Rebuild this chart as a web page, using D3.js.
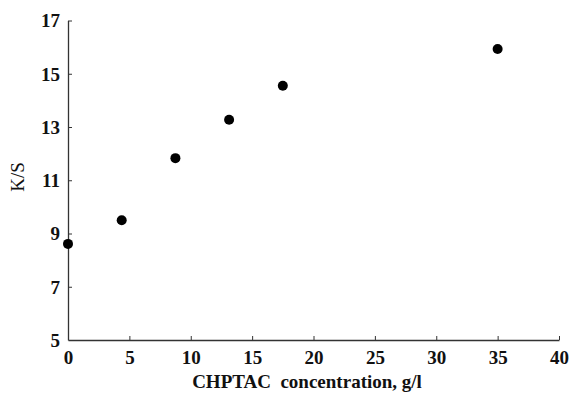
<!DOCTYPE html>
<html>
<head>
<meta charset="utf-8">
<script src="https://cdn.jsdelivr.net/npm/d3@7"></script>
</head>
<body style="margin:0;background:#fff">
<script>
const concentration = [0, 4.375, 8.75, 13.125, 17.5, 35];
const ksValues = [8.61, 9.5, 11.83, 13.27, 14.55, 15.93];
const xTicks = [0, 5, 10, 15, 20, 25, 30, 35, 40];
const yTicks = [5, 7, 9, 11, 13, 15, 17];
const xLabel = "CHPTAC\u00a0 concentration, g/l";
const yLabel = "K/S";

const W = 572, H = 396;
const m = { left: 68, right: 13, top: 20.5, bottom: 56 };

const svg = d3.select("body").append("svg").attr("width", W).attr("height", H)
  .style("display", "block");

const x = d3.scaleLinear().domain([0, 40]).range([m.left, W - m.right]);
const y = d3.scaleLinear().domain([5, 17]).range([H - m.bottom, m.top]);

const FONT = "'Liberation Serif', 'Times New Roman', serif";

function serif(sel, size, bold) {
  sel.style("font-family", FONT, "important")
     .style("font-size", size + "px", "important")
     .style("font-weight", bold ? "bold" : "normal", "important");
}

const xAxis = svg.append("g")
  .attr("transform", `translate(0,${y(5)})`)
  .call(d3.axisBottom(x).tickValues(xTicks).tickSizeInner(-4).tickSizeOuter(0).tickPadding(10).tickFormat(d3.format("d")));
const yAxis = svg.append("g")
  .attr("transform", `translate(${x(0)},0)`)
  .call(d3.axisLeft(y).tickValues(yTicks).tickSizeInner(-4).tickSizeOuter(0).tickPadding(8).tickFormat(d3.format("d")));

[xAxis, yAxis].forEach(g => {
  g.attr("font-family", null).attr("font-size", null);
  g.select(".domain").attr("stroke", "#333").attr("stroke-width", 1.3);
  g.selectAll(".tick line").attr("stroke", "#333").attr("stroke-width", 1);
  g.selectAll(".tick text").attr("fill", "#111").call(serif, 19, true);
});
yAxis.selectAll(".tick line").filter(d => d === 5).remove();
xAxis.selectAll(".tick line").filter(d => d === 0).remove();
yAxis.selectAll(".tick text").attr("dy", "0.34em");
xAxis.selectAll(".tick text").attr("dy", "0.75em");

svg.append("g").selectAll("circle")
  .data(concentration.map((c, i) => [c, ksValues[i]]))
  .join("circle")
  .attr("cx", d => x(d[0]))
  .attr("cy", d => y(d[1]))
  .attr("r", 5)
  .attr("fill", "#000");

svg.append("text")
  .attr("x", 307).attr("y", 388)
  .attr("text-anchor", "middle")
  .attr("fill", "#111")
  .call(serif, 19, true)
  .text(xLabel);

svg.append("text")
  .attr("transform", `translate(24,177) rotate(-90)`)
  .attr("text-anchor", "middle")
  .attr("fill", "#111")
  .call(serif, 19, false)
  .text(yLabel);
</script>
</body>
</html>
